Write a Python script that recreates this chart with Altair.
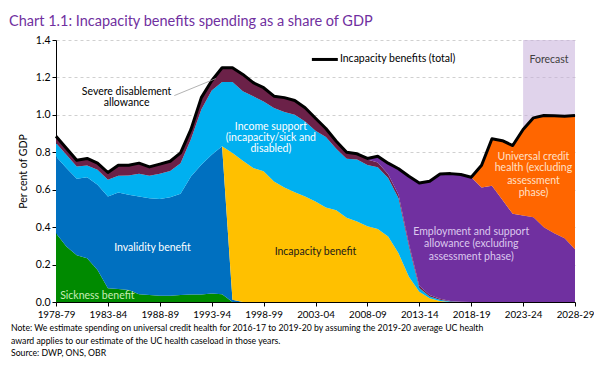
import altair as alt
import pandas as pd

years = ["1978-79", "1979-80", "1980-81", "1981-82", "1982-83", "1983-84", "1984-85", "1985-86",
         "1986-87", "1987-88", "1988-89", "1989-90", "1990-91", "1991-92", "1992-93", "1993-94",
         "1994-95", "1995-96", "1996-97", "1997-98", "1998-99", "1999-00", "2000-01", "2001-02",
         "2002-03", "2003-04", "2004-05", "2005-06", "2006-07", "2007-08", "2008-09", "2009-10",
         "2010-11", "2011-12", "2012-13", "2013-14", "2014-15", "2015-16", "2016-17", "2017-18",
         "2018-19", "2019-20", "2020-21", "2021-22", "2022-23", "2023-24", "2024-25", "2025-26",
         "2026-27", "2027-28", "2028-29"]

sickness = [0.367, 0.296, 0.250, 0.234, 0.171, 0.073, 0.070, 0.064, 0.041, 0.037, 0.034, 0.034,
            0.037, 0.040, 0.040, 0.046, 0.042, 0, 0, 0, 0, 0, 0, 0, 0, 0, 0, 0, 0, 0, 0, 0, 0, 0,
            0, 0, 0, 0, 0, 0, 0, 0, 0, 0, 0, 0, 0, 0, 0, 0, 0]
invalidity = [0.411, 0.420, 0.408, 0.432, 0.455, 0.491, 0.515, 0.509, 0.523, 0.518, 0.517, 0.526,
              0.541, 0.630, 0.693, 0.741, 0.790, 0.012, 0, 0, 0, 0, 0, 0, 0, 0, 0, 0, 0, 0, 0, 0,
              0, 0, 0, 0, 0, 0, 0, 0, 0, 0, 0, 0, 0, 0, 0, 0, 0, 0, 0]
incapacity = [0, 0, 0, 0, 0, 0, 0, 0, 0, 0, 0, 0, 0, 0, 0, 0, 0, 0.784, 0.755, 0.716, 0.698, 0.644,
              0.612, 0.587, 0.564, 0.537, 0.505, 0.490, 0.450, 0.430, 0.405, 0.390, 0.350, 0.260,
              0.135, 0.055, 0.020, 0.005, 0, 0, 0, 0, 0, 0, 0, 0, 0, 0, 0, 0, 0]
income_support = [0.072, 0.071, 0.066, 0.064, 0.081, 0.089, 0.090, 0.103, 0.121, 0.120, 0.134,
                  0.140, 0.164, 0.200, 0.295, 0.343, 0.344, 0.380, 0.371, 0.383, 0.374, 0.393,
                  0.403, 0.413, 0.401, 0.378, 0.377, 0.329, 0.315, 0.332, 0.327, 0.330, 0.312,
                  0.295, 0.161, 0.020, 0.010, 0.007, 0.003, 0, 0, 0, 0, 0, 0, 0, 0, 0, 0, 0, 0]
severe_disablement = [0.036, 0.035, 0.033, 0.037, 0.035, 0.039, 0.056, 0.055, 0.057, 0.047, 0.052,
                      0.052, 0.055, 0.052, 0.064, 0.052, 0.076, 0.076, 0.090, 0.073, 0.073, 0.063,
                      0.077, 0.077, 0.073, 0.067, 0.045, 0.040, 0.035, 0.030, 0.030, 0.025, 0.020,
                      0.018, 0.015, 0.012, 0.008, 0.005, 0.003, 0.001, 0, 0, 0, 0, 0, 0, 0, 0, 0,
                      0, 0]
esa = [0, 0, 0, 0, 0, 0, 0, 0, 0, 0, 0, 0, 0, 0, 0, 0, 0, 0, 0, 0, 0, 0, 0, 0, 0, 0, 0, 0, 0, 0,
       0.005, 0.034, 0.060, 0.139, 0.361, 0.549, 0.607, 0.667, 0.680, 0.680, 0.667, 0.612, 0.621,
       0.546, 0.471, 0.462, 0.453, 0.400, 0.368, 0.341, 0.282]
uc_health = [0, 0, 0, 0, 0, 0, 0, 0, 0, 0, 0, 0, 0, 0, 0, 0, 0, 0, 0, 0, 0, 0, 0, 0, 0, 0, 0, 0,
             0, 0, 0, 0, 0, 0, 0, 0, 0, 0, 0, 0, 0, 0.119, 0.251, 0.316, 0.365, 0.460, 0.531,
             0.597, 0.627, 0.652, 0.715]
total = [0.886, 0.822, 0.757, 0.767, 0.742, 0.692, 0.731, 0.731, 0.742, 0.722, 0.737, 0.752, 0.797,
         0.922, 1.092, 1.182, 1.252, 1.252, 1.216, 1.172, 1.145, 1.100, 1.092, 1.077, 1.038, 0.982,
         0.927, 0.859, 0.800, 0.792, 0.767, 0.779, 0.742, 0.712, 0.672, 0.636, 0.645, 0.684, 0.686,
         0.681, 0.667, 0.731, 0.872, 0.862, 0.836, 0.922, 0.984, 0.997, 0.995, 0.993, 0.997]

series_names = ["Sickness benefit", "Invalidity benefit", "Incapacity benefit", "Income support",
                "Severe disablement allowance", "Employment and support allowance",
                "Universal credit health"]
series_values = [sickness, invalidity, incapacity, income_support, severe_disablement, esa, uc_health]
series_colors = ["#008A00", "#0070C0", "#FFC000", "#00B0F0", "#6B2148", "#7030A0", "#FF6600"]

y_ticks = [0.0, 0.2, 0.4, 0.6, 0.8, 1.0, 1.2, 1.4]
forecast_from, forecast_to = "2023-24", "2028-29"

# annotations: (x in year-start units, y in % of GDP, text, colour, align)
annotations = [
    (1984.8, 1.124, "Severe disablement", "#000000", "center"),
    (1984.8, 1.064, "allowance", "#000000", "center"),
    (1998.7, 0.937, "Income support", "#FFFFFF", "center"),
    (1998.7, 0.878, "(incapacity/sick and", "#FFFFFF", "center"),
    (1998.7, 0.819, "disabled)", "#FFFFFF", "center"),
    (1987.3, 0.289, "Invalidity benefit", "#FFFFFF", "center"),
    (1978.4, 0.032, "Sickness benefit", "#C8EDB8", "left"),
    (2003.0, 0.268, "Incapacity benefit", "#1A1A1A", "center"),
    (2018.0, 0.375, "Employment and support", "#DCC8EE", "center"),
    (2018.0, 0.310, "allowance (excluding", "#DCC8EE", "center"),
    (2018.0, 0.241, "assessment phase)", "#DCC8EE", "center"),
    (2024.0, 0.776, "Universal credit", "#FFE0C8", "center"),
    (2024.0, 0.717, "health (excluding", "#FFE0C8", "center"),
    (2024.0, 0.648, "assessment", "#FFE0C8", "center"),
    (2024.0, 0.584, "phase)", "#FFE0C8", "center"),
    (2025.5, 1.295, "Forecast", "#404040", "center"),
    (2005.35, 1.296, "Incapacity benefits (total)", "#000000", "left"),
]
legend_line = (2002.65, 2005.15, 1.296)
leader_line = (1989.4, 1.103, 1993.4, 1.194)

note_lines = [
    "Note: We estimate spending on universal credit health for 2016-17 to 2019-20 by assuming the 2019-20 average UC health",
    "award applies to our estimate of the UC health caseload in those years.",
    "Source: DWP, ONS, OBR",
]
note_rows_y = [288, 301, 313]   # pixel rows below the plot top

FONT = "Lato"
start = [int(y[:4]) for y in years]

rows = []
for k, (name, vals) in enumerate(zip(series_names, series_values)):
    for s, v in zip(start, vals):
        rows.append({"start": s, "series": name, "ord": k, "value": v})
df = pd.DataFrame(rows)
tot_df = pd.DataFrame({"start": start, "value": total})

label_expr = "[" + ",".join("'%s'" % y for y in years) + "][datum.value - %d]" % start[0]

xscale = alt.Scale(domain=[start[0], start[-1]], nice=False, zero=False)
yscale = alt.Scale(domain=[0, 1.4], nice=False)
xaxis = alt.Axis(values=start[::5], labelExpr=label_expr, title=None, grid=False,
                 domainColor="black", tickColor="black", tickSize=4, labelColor="black",
                 labelFont=FONT, labelFontSize=9.8, labelPadding=3, labelOverlap=False,
                 labelFlush=False)
yaxis = alt.Axis(values=y_ticks, format=".1f", title="Per cent of GDP", grid=True,
                 gridDash=[3, 3], gridColor="#D0D0D0", domainColor="black", tickColor="black",
                 tickSize=4, labelColor="black", labelFont=FONT, labelFontSize=10.5,
                 titleFont=FONT, titleFontSize=10.5, titleFontWeight="normal", titleColor="black",
                 titlePadding=7)

fc = pd.DataFrame({"x": [int(forecast_from[:4])], "x2": [int(forecast_to[:4])],
                   "y": [1.4], "y2": [0.0]})
forecast = alt.Chart(fc).mark_rect(color="#C7AEDB", opacity=0.55).encode(
    x=alt.X("x:Q", scale=xscale, axis=xaxis),
    x2="x2:Q",
    y=alt.Y("y:Q", scale=yscale, axis=yaxis),
    y2="y2:Q",
)

areas = alt.Chart(df).mark_area(interpolate="linear").encode(
    x=alt.X("start:Q", scale=xscale, axis=xaxis),
    y=alt.Y("value:Q", stack="zero", scale=yscale, axis=yaxis),
    color=alt.Color("series:N", scale=alt.Scale(domain=series_names, range=series_colors),
                    legend=None),
    order=alt.Order("ord:Q", sort="ascending"),
)

line = alt.Chart(tot_df).mark_line(color="black", strokeWidth=3, strokeJoin="round").encode(
    x=alt.X("start:Q", scale=xscale, axis=xaxis),
    y=alt.Y("value:Q", scale=yscale, axis=yaxis),
)

ann = pd.DataFrame(annotations, columns=["x", "y", "text", "col", "align"])
text_c = alt.Chart(ann[ann["align"] == "center"]).mark_text(
    font=FONT, fontSize=10.5, align="center", baseline="middle").encode(
    x=alt.X("x:Q", scale=xscale, axis=xaxis),
    y=alt.Y("y:Q", scale=yscale, axis=yaxis),
    text="text:N", color=alt.Color("col:N", scale=None))
text_l = alt.Chart(ann[ann["align"] == "left"]).mark_text(
    font=FONT, fontSize=10.5, align="left", baseline="middle").encode(
    x=alt.X("x:Q", scale=xscale, axis=xaxis),
    y=alt.Y("y:Q", scale=yscale, axis=yaxis),
    text="text:N", color=alt.Color("col:N", scale=None))

leg = pd.DataFrame({"x": [legend_line[0]], "x2": [legend_line[1]], "y": [legend_line[2]]})
leg_rule = alt.Chart(leg).mark_rule(color="black", strokeWidth=3).encode(
    x=alt.X("x:Q", scale=xscale, axis=xaxis), x2="x2:Q",
    y=alt.Y("y:Q", scale=yscale, axis=yaxis))

ld = pd.DataFrame({"x": [leader_line[0]], "y": [leader_line[1]],
                   "x2": [leader_line[2]], "y2": [leader_line[3]]})
leader = alt.Chart(ld).mark_rule(color="#A0A0A0", strokeWidth=0.8).encode(
    x=alt.X("x:Q", scale=xscale, axis=xaxis), x2="x2:Q",
    y=alt.Y("y:Q", scale=yscale, axis=yaxis), y2="y2:Q")

note_layers = []
for txt, py in zip(note_lines, note_rows_y):
    nd = pd.DataFrame({"text": [txt]})
    note_layers.append(alt.Chart(nd).mark_text(
        font=FONT, fontSize=8.7, align="left", baseline="middle", color="black").encode(
        x=alt.value(-45), y=alt.value(py), text="text:N"))

chart = alt.layer(forecast, areas, line, leader, leg_rule, text_c, text_l, *note_layers).properties(
    width=519, height=262,
    padding={"left": 48, "top": 32, "right": 19, "bottom": 58},
    autosize=alt.AutoSizeParams(type="none"),
    title=alt.TitleParams(
        "Chart 1.1: Incapacity benefits spending as a share of GDP",
        anchor="start", frame="group", dx=-47, fontSize=14.5, font=FONT, fontWeight="normal",
        color="#7030A0", offset=6),
).configure_view(stroke=None)

chart.save("out.html", embed_options={"renderer": "svg", "actions": False})
